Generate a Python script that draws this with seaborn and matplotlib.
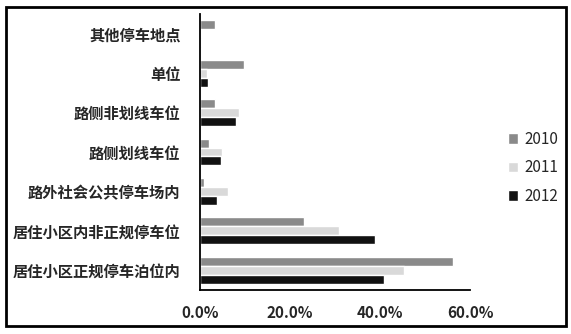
import matplotlib
matplotlib.use("Agg")
import matplotlib.pyplot as plt
import seaborn as sns
import pandas as pd
import numpy as np
from matplotlib.patches import Rectangle
from matplotlib.ticker import FuncFormatter, FixedLocator

categories = ["其他停车地点", "单位", "路侧非划线车位", "路侧划线车位",
              "路外社会公共停车场内", "居住小区内非正规停车位", "居住小区正规停车泊位内"]
years = ["2010", "2011", "2012"]
v2010 = [3.3, 9.8, 3.3, 2.0, 0.9, 23.1, 56.2]
v2011 = [0.0, 1.6, 8.7, 4.9, 6.2, 30.9, 45.3]
v2012 = [0.3, 1.8, 8.0, 4.7, 3.8, 38.9, 40.9]
xticks = [0, 20, 40, 60]

rows = []
for y, vals in zip(years, [v2010, v2011, v2012]):
    for c, v in zip(categories, vals):
        rows.append({"cat": c, "year": y, "val": v})
df = pd.DataFrame(rows)

sns.set_style("white")
plt.rcParams['font.family'] = ['Noto Sans CJK SC', 'DejaVu Sans']

fig = plt.figure(figsize=(5.71, 3.34), dpi=100)
ax = fig.add_axes([200/571, 1-290/334, 270/571, 276/334])

palette = {"2010": "#8a8a8a", "2011": "#d9d9d9", "2012": "#111111"}
sns.barplot(data=df, y="cat", x="val", hue="year", order=categories,
            hue_order=years, palette=palette, orient="h", width=0.68,
            saturation=1, ax=ax, errorbar=None)

ax.set_xlim(0, 60)
ax.set_ylim(len(categories) - 0.5, -0.5)
ax.set_xlabel("")
ax.set_ylabel("")
ax.xaxis.set_major_locator(FixedLocator(xticks))
ax.xaxis.set_major_formatter(FuncFormatter(lambda v, p: f"{v:.1f}%"))
ax.tick_params(axis="x", which="major", direction="out", length=5, width=1.2,
               color="black", labelsize=11, pad=6)
for lab in ax.get_xticklabels():
    lab.set_fontweight("bold")
ax.tick_params(axis="y", which="major", length=0, labelsize=11, pad=14)
for lab in ax.get_yticklabels():
    lab.set_fontweight("bold")
ax.set_yticks(np.arange(-0.5, len(categories), 1.0), minor=True)
ax.tick_params(axis="y", which="minor", direction="out", length=5, width=1.2, color="black")

for s in ["top", "right"]:
    ax.spines[s].set_visible(False)
for s in ["left", "bottom"]:
    ax.spines[s].set_color("black")
    ax.spines[s].set_linewidth(1.3)

leg = ax.legend(frameon=False, loc="upper left", bbox_to_anchor=(494/571, 1-117/334),
                bbox_transform=fig.transFigure, handlelength=0.7, handleheight=0.7,
                handletextpad=0.4, labelspacing=0.75, fontsize=11)

fig.patches.append(Rectangle((6/571, 1-326/334), 560/571, 319/334, transform=fig.transFigure,
                             fill=False, edgecolor="black", linewidth=2))

fig.savefig("out.png", dpi=100)
